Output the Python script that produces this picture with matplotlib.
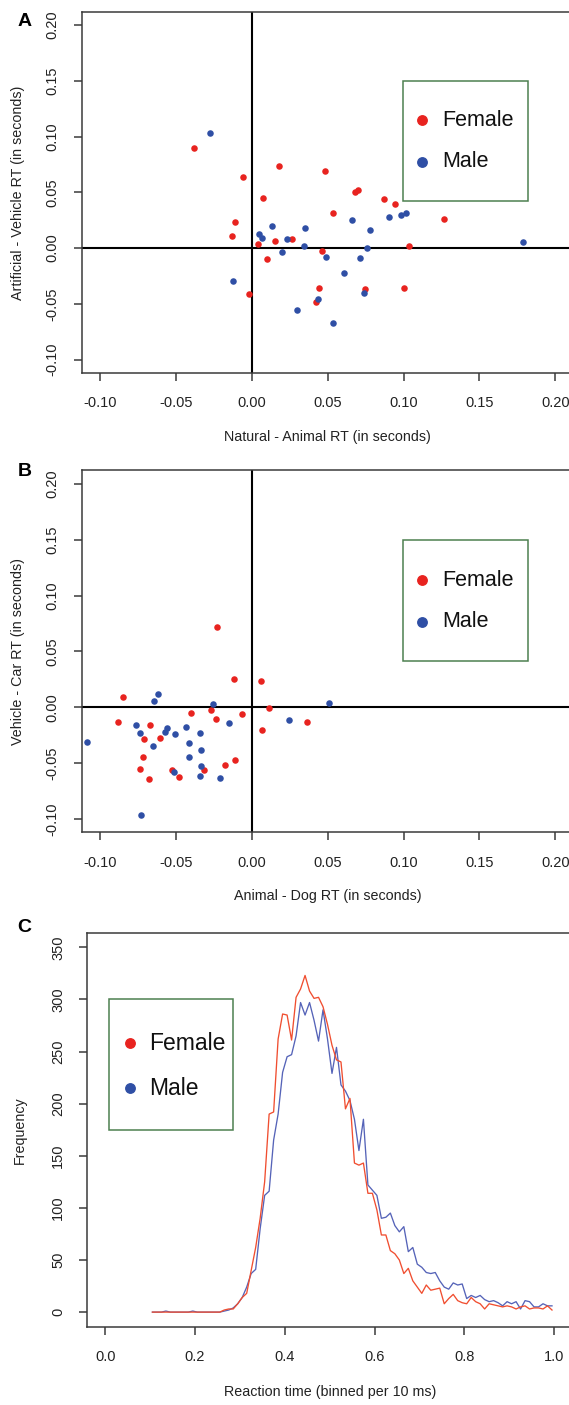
import numpy as np
import matplotlib
matplotlib.use("Agg")
import matplotlib.pyplot as plt
from matplotlib.patches import Rectangle
from matplotlib.lines import Line2D

plt.rcParams['font.family'] = ['Liberation Sans', 'DejaVu Sans']
plt.rcParams['axes.unicode_minus'] = False

# ---- panel A : Natural-Animal vs Artificial-Vehicle RT difference
a_female_x = [-0.0379, -0.0057, 0.0179, 0.0484, 0.0683, 0.0703, 0.0074, 0.0532,
              -0.0107, -0.0129, 0.0042, 0.0155, 0.0265, 0.0101, 0.0460, 0.0440,
              0.0425, -0.0018, 0.0868, 0.0943, 0.1268, 0.1036, 0.1002, 0.0749]
a_female_y = [0.0899, 0.0642, 0.0732, 0.0693, 0.0499, 0.0523, 0.0451, 0.0311,
              0.0236, 0.0110, 0.0036, 0.0060, 0.0078, -0.0096, -0.0024, -0.0361,
              -0.0487, -0.0409, 0.0442, 0.0400, 0.0265, 0.0018, -0.0361, -0.0367]
a_male_x = [-0.0274, 0.0046, 0.0066, 0.0136, 0.0230, 0.0348, 0.0346, 0.0197,
            0.0492, 0.0606, 0.0661, 0.0711, -0.0123, 0.0295, 0.0436, 0.0534,
            0.0780, 0.0761, 0.0742, 0.0902, 0.0986, 0.1019, 0.1785]
a_male_y = [0.1030, 0.0128, 0.0090, 0.0200, 0.0078, 0.0176, 0.0020, -0.0039,
            -0.0081, -0.0227, 0.0254, -0.0093, -0.0296, -0.0559, -0.0460, -0.0669,
            0.0160, 0.0000, -0.0404, 0.0280, 0.0298, 0.0312, 0.0051]

# ---- panel B : Animal-Dog vs Vehicle-Car RT difference
b_female_x = [-0.0232, -0.0120, 0.0061, -0.0845, 0.0116, -0.0271, -0.0398, -0.0066,
              -0.0236, -0.0880, -0.0668, 0.0366, 0.0068, -0.0606, -0.0707, -0.0716,
              -0.0733, -0.0674, -0.0527, -0.0479, -0.0313, -0.0177, -0.0109]
b_female_y = [0.0719, 0.0254, 0.0237, 0.0087, -0.0006, -0.0021, -0.0054, -0.0063,
              -0.0105, -0.0129, -0.0159, -0.0129, -0.0201, -0.0278, -0.0287, -0.0443,
              -0.0554, -0.0641, -0.0560, -0.0629, -0.0563, -0.0518, -0.0470]
b_male_x = [-0.0617, -0.0646, -0.0258, 0.0512, 0.0245, -0.0149, -0.0764, -0.0733,
            -0.0558, -0.0573, -0.0508, -0.0431, -0.0344, -0.0411, -0.0652, -0.1086,
            -0.0333, -0.0411, -0.0333, -0.0512, -0.0344, -0.0208, -0.0730]
b_male_y = [0.0114, 0.0054, 0.0030, 0.0039, -0.0114, -0.0138, -0.0162, -0.0228,
            -0.0189, -0.0219, -0.0237, -0.0180, -0.0228, -0.0320, -0.0347, -0.0311,
            -0.0380, -0.0446, -0.0527, -0.0584, -0.0614, -0.0638, -0.0964]

# ---- panel C : RT histograms, 10 ms bins (0.105 ... 0.995 s)
rt_bins = np.round(np.arange(0.105, 1.0, 0.01), 3)
freq_female = [0, 0, 0, 0, 0, 0, 0, 0, 0, 0, 0, 0, 0, 0, 0, 0,
               2, 3, 3, 8, 14, 18, 40, 62, 90, 125,
               190, 192, 262, 286, 285, 261, 302, 310, 323, 308,
               301, 302, 293, 276, 256, 242, 240, 195, 205, 143,
               141, 143, 114, 114, 98, 74, 74, 59, 56, 50,
               37, 42, 30, 24, 18, 26, 21, 22, 23, 8,
               13, 17, 11, 9, 8, 14, 10, 8, 3, 8,
               7, 6, 5, 6, 5, 3, 5, 6, 3, 4,
               4, 3, 6, 2]
freq_male = [0, 0, 0, 1, 0, 0, 0, 0, 0, 1, 0, 0, 0, 0, 0, 0,
             1, 2, 4, 8, 14, 24, 37, 41, 80, 112,
             116, 165, 190, 230, 245, 247, 265, 297, 285, 297,
             280, 260, 290, 262, 229, 254, 218, 212, 203, 185,
             155, 185, 122, 117, 112, 90, 91, 95, 83, 77,
             82, 58, 62, 46, 43, 38, 37, 38, 30, 24,
             22, 28, 26, 27, 13, 16, 14, 16, 12, 10,
             11, 9, 6, 10, 8, 10, 3, 11, 10, 5,
             5, 8, 6, 6]

diff_ticks = [-0.10, -0.05, 0.00, 0.05, 0.10, 0.15, 0.20]
freq_ticks = [0, 50, 100, 150, 200, 250, 300, 350]
rt_ticks = [0.0, 0.2, 0.4, 0.6, 0.8, 1.0]

RED = '#e8231f'
BLUE = '#2f4fa5'
RED_LINE = '#f04e30'
BLUE_LINE = '#5563b8'
GREEN = '#4d8050'
SPINE = '#3a3a3a'

W, H = 569, 1405
fig = plt.figure(figsize=(W / 100, H / 100), dpi=100)


def px_axes(left, top, right, bottom):
    return fig.add_axes([left / W, 1 - bottom / H, (right - left) / W, (bottom - top) / H])


def style(ax):
    for s in ax.spines.values():
        s.set_color(SPINE)
        s.set_linewidth(1.1)
    ax.tick_params(direction='out', length=5.8, width=1.1, color=SPINE,
                   labelsize=10.5, labelcolor='#222222')
    ax.tick_params(axis='x', pad=11)
    ax.tick_params(axis='y', pad=10)
    plt.setp(ax.get_yticklabels(), rotation=90, va='center')


def key_box(left, top, right, bottom, dot_x, text_x, rows, fs):
    fig.add_artist(Rectangle((left / W, 1 - bottom / H), (right - left) / W, (bottom - top) / H,
                             transform=fig.transFigure, fill=False, edgecolor=GREEN, lw=1.1))
    for label, color, y in rows:
        fig.add_artist(Line2D([dot_x / W], [1 - y / H], marker='o', ms=6.8, color=color,
                              linestyle='none', transform=fig.transFigure))
        fig.text(text_x / W, 1 - y / H, label, fontsize=fs, va='center', ha='left', color='#111111')


def scatter_panel(ax, fx, fy, mx, my, xlabel, ylabel):
    ax.axhline(0, color='black', lw=1.5, zorder=1)
    ax.axvline(0, color='black', lw=1.5, zorder=1)
    ax.plot(fx, fy, 'o', color=RED, ms=4.7, mew=0, zorder=3)
    ax.plot(mx, my, 'o', color=BLUE, ms=4.7, mew=0, zorder=3)
    ax.set_xlim(-0.112, 0.212)
    ax.set_ylim(-0.112, 0.212)
    ax.set_xticks(diff_ticks)
    ax.set_yticks(diff_ticks)
    ax.set_xticklabels(['%.2f' % t for t in diff_ticks])
    ax.set_yticklabels(['%.2f' % t for t in diff_ticks])
    style(ax)
    ax.set_xlabel(xlabel, fontsize=10.3, color='#222222')
    ax.set_ylabel(ylabel, fontsize=10.3, color='#222222')
    ax.xaxis.set_label_coords(0.5, -0.177)
    ax.xaxis.label.set_va('center')
    ax.yaxis.set_label_coords(-0.1295, 0.5)
    ax.yaxis.label.set_va('center')


axA = px_axes(81.7, 11.7, 573.6, 373)
scatter_panel(axA, a_female_x, a_female_y, a_male_x, a_male_y,
              'Natural - Animal RT (in seconds)', 'Artificial - Vehicle RT (in seconds)')
key_box(403, 80.7, 528.3, 201, 422, 442.7,
        [('Female', RED, 120), ('Male', BLUE, 161.7)], 15.5)

axB = px_axes(81.7, 470.4, 573.6, 832.3)
scatter_panel(axB, b_female_x, b_female_y, b_male_x, b_male_y,
              'Animal - Dog RT (in seconds)', 'Vehicle - Car RT (in seconds)')
key_box(403, 540, 528.3, 660.7, 422, 442.7,
        [('Female', RED, 580), ('Male', BLUE, 621.7)], 15.5)

axC = px_axes(87.3, 932.7, 572.2, 1326.7)
axC.plot(rt_bins, freq_male, color=BLUE_LINE, lw=0.95)
axC.plot(rt_bins, freq_female, color=RED_LINE, lw=0.95)
axC.set_xlim(-0.04, 1.04)
axC.set_ylim(-14, 364)
axC.set_xticks(rt_ticks)
axC.set_xticklabels(['%.1f' % t for t in rt_ticks])
axC.set_yticks(freq_ticks)
axC.set_yticklabels([str(t) for t in freq_ticks])
style(axC)
axC.set_xlabel('Reaction time (binned per 10 ms)', fontsize=10.3, color='#222222')
axC.set_ylabel('Frequency', fontsize=10.3, color='#222222')
axC.xaxis.set_label_coords(0.5, -0.1657)
axC.xaxis.label.set_va('center')
axC.yaxis.set_label_coords(-0.1388, 0.5)
axC.yaxis.label.set_va('center')
key_box(108.9, 999.3, 233.3, 1130, 129.5, 148.8,
        [('Female', RED, 1043.3), ('Male', BLUE, 1088.3)], 16.5)

for letter, (x, y) in zip(['A', 'B', 'C'], [(25, 22), (25, 472), (24, 927)]):
    fig.text(x / W, 1 - y / H, letter, fontsize=14, fontweight='bold', ha='center', va='center')

fig.savefig('out.png', dpi=100)
